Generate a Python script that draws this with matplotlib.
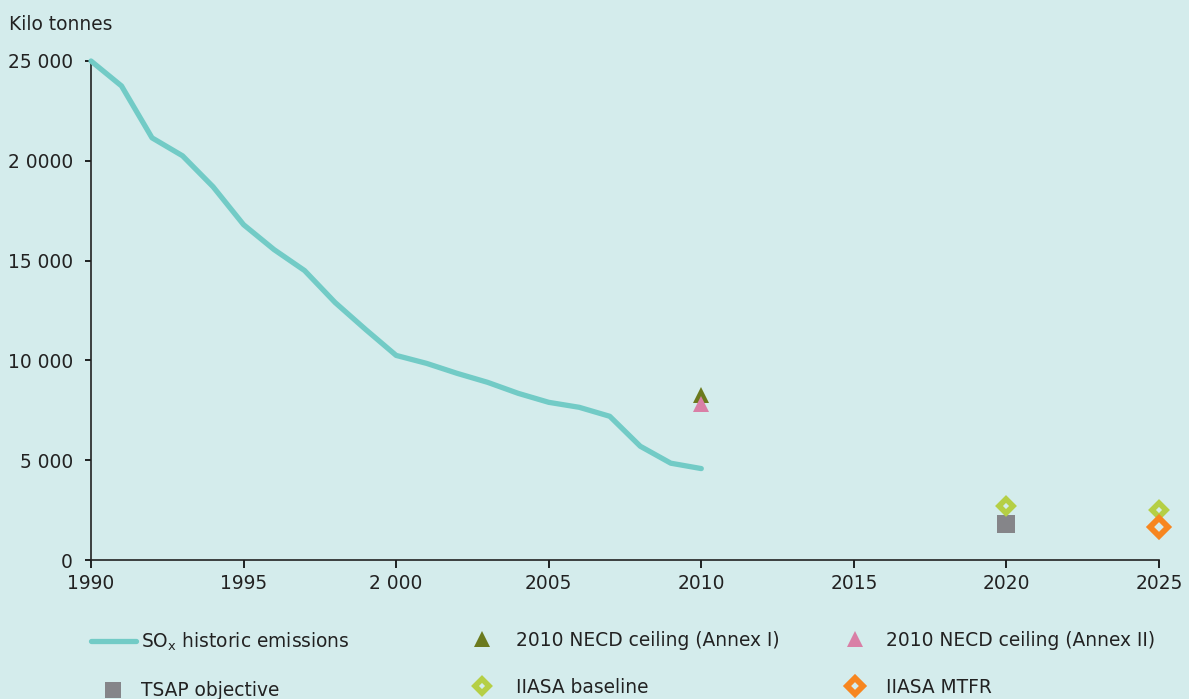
import matplotlib
matplotlib.use("Agg")
import matplotlib.pyplot as plt
from matplotlib.lines import Line2D

# Historic SOx emissions (kilo tonnes)
years = [1990, 1991, 1992, 1993, 1994, 1995, 1996, 1997, 1998, 1999, 2000,
         2001, 2002, 2003, 2004, 2005, 2006, 2007, 2008, 2009, 2010]
emissions = [25000, 23750, 21150, 20250, 18700, 16800, 15550, 14500, 12900, 11550, 10250,
             9850, 9350, 8900, 8350, 7900, 7650, 7200, 5700, 4850, 4580]

# Targets and projections
annex1_year, annex1_value = [2010], [8270]
annex2_year, annex2_value = [2010], [7800]
tsap_year, tsap_value = [2020], [1800]
baseline_years, baseline_values = [2020, 2025], [2700, 2500]
mtfr_year, mtfr_value = [2025], [1650]

y_ticks = [0, 5000, 10000, 15000, 20000, 25000]
y_ticklabels = ["0", "5 000", "10 000", "15 000", "2 0000", "25 000"]
x_ticks = [1990, 1995, 2000, 2005, 2010, 2015, 2020, 2025]
x_ticklabels = ["1990", "1995", "2 000", "2005", "2010", "2015", "2020", "2025"]

bg = "#d4ecec"
c_line = "#72cbc6"
c_annex1 = "#6b7a1e"
c_annex2 = "#d97fa6"
c_tsap = "#858589"
c_base = "#b5cf45"
c_mtfr = "#f7861f"
txt = "#222222"

plt.rcParams["font.family"] = ["DejaVu Sans"]
plt.rcParams["font.size"] = 13.4

fig = plt.figure(figsize=(11.89, 6.99), dpi=100, facecolor=bg)
ax = fig.add_axes([91 / 1189, 1 - 560 / 699, 1068 / 1189, 499 / 699])
ax.set_facecolor(bg)

ax.plot(years, emissions, color=c_line, lw=3.8, solid_capstyle="round", clip_on=False, zorder=3)
ms_tri = 11
ax.plot(annex1_year, annex1_value, "^", color=c_annex1, ms=ms_tri, mew=0, clip_on=False, zorder=4)
ax.plot(annex2_year, annex2_value, "^", color=c_annex2, ms=ms_tri, mew=0, clip_on=False, zorder=5)
ax.plot(tsap_year, tsap_value, "s", color=c_tsap, ms=13, mew=0, clip_on=False, zorder=4)
ax.plot(baseline_years, baseline_values, marker="D", ls="none", ms=7.3, mfc=bg, mec=c_base,
        mew=4.0, clip_on=False, zorder=5)
ax.plot(mtfr_year, mtfr_value, marker="D", ls="none", ms=8.7, mfc=bg, mec=c_mtfr,
        mew=4.2, clip_on=False, zorder=6)

ax.set_xlim(1990, 2025)
ax.set_ylim(0, 25000)
ax.set_xticks(x_ticks)
ax.set_xticklabels(x_ticklabels, color=txt)
ax.set_yticks(y_ticks)
ax.set_yticklabels(y_ticklabels, color=txt)
ax.tick_params(axis="x", direction="out", length=6, width=1.2, pad=4)
ax.tick_params(axis="y", direction="out", length=4.5, width=1.2, pad=8.5)
for side in ["top", "right"]:
    ax.spines[side].set_visible(False)
for side in ["left", "bottom"]:
    ax.spines[side].set_linewidth(1.2)
    ax.spines[side].set_color("#222222")

fig.text(9 / 1189, 1 - 25 / 699, "Kilo tonnes", ha="left", va="center", color=txt)

# Legend: three columns at fixed positions
h_line = Line2D([], [], color=c_line, lw=3.8, solid_capstyle="round")
h_a1 = Line2D([], [], marker="^", color=c_annex1, ms=ms_tri, mew=0, ls="none")
h_a2 = Line2D([], [], marker="^", color=c_annex2, ms=ms_tri, mew=0, ls="none")
h_tsap = Line2D([], [], marker="s", color=c_tsap, ms=12, mew=0, ls="none")
h_base = Line2D([], [], marker="D", ls="none", ms=7.3, mfc=bg, mec=c_base, mew=4.0)
h_mtfr = Line2D([], [], marker="D", ls="none", ms=7.8, mfc=bg, mec=c_mtfr, mew=4.2)

columns = [
    ([h_line, h_tsap], ["SO$_\\mathregular{x}$ historic emissions", "TSAP objective"], 91, 2.4, 0.28),
    ([h_a1, h_base], ["2010 NECD ceiling (Annex I)", "IIASA baseline"], 471, 1.2, 1.2),
    ([h_a2, h_mtfr], ["2010 NECD ceiling (Annex II)", "IIASA MTFR"], 844, 1.2, 1.05),
]
for handles, labels, x0, hl, pad in columns:
    fig.legend(handles, labels, loc="upper left",
               bbox_to_anchor=(x0 / 1189, 1 - 631 / 699),
               frameon=False, handlelength=hl, handletextpad=pad,
               labelspacing=1.5, borderpad=0, borderaxespad=0,
               labelcolor=txt)

fig.savefig("out.png", dpi=100, facecolor=bg)
